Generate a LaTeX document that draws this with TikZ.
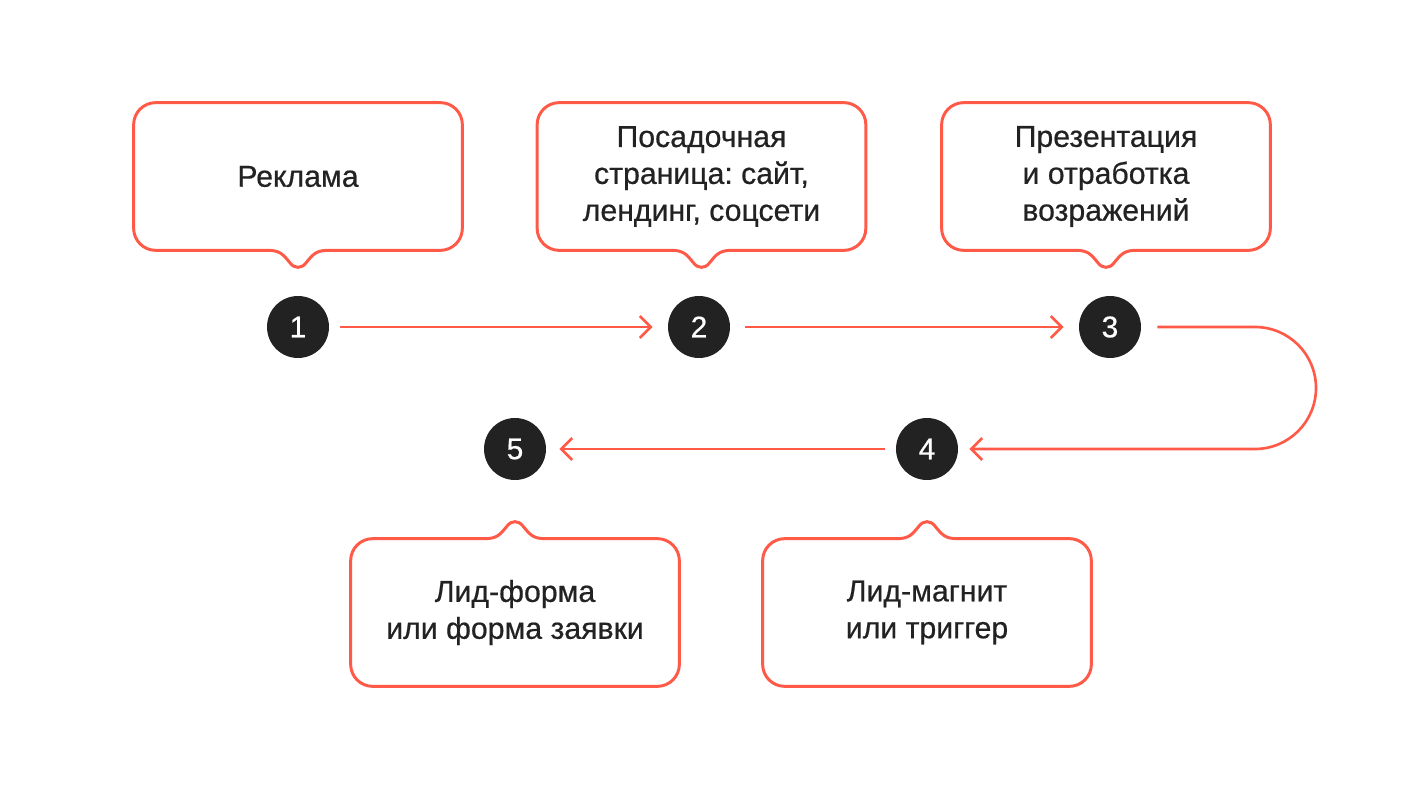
\documentclass[tikz,border=0pt]{standalone}
\usepackage{fontspec}
\setmainfont{Liberation Sans}[FakeBold=0.6]
\usepackage{tikz}
\usetikzlibrary{arrows.meta, calc}
\frenchspacing

\definecolor{accent}{HTML}{FF5A48}
\definecolor{ink}{HTML}{222222}

\tikzset{
    callout/.style={draw=accent, line width=1.7pt, line cap=round},
    boxtext/.style={minimum width=6.56cm, minimum height=2.94cm, align=center,
        text=ink, font=\fontsize{17.2}{21}\selectfont},
    stepdot/.style={circle, fill=ink, minimum size=1.24cm, inner sep=0pt,
        text=white, font=\fontsize{17}{19}\selectfont},
    flow/.style={draw=accent, line width=1.5pt,
        -{Straight Barb[length=2.2mm, width=4.4mm, line width=1.5pt]}}
}

% box outline, open in the middle of the pointer side
\newcommand\bubble[3]{%
    \draw[callout, rounded corners=0.44cm] ([xshift=-0.6cm]#1.#2) -- (#1.#2 west) -- (#1.#3 west)
        -- (#1.#3 east) -- (#1.#2 east) -- ([xshift=0.6cm]#1.#2);
}
\newcommand\pointer[2]{%
    \draw[callout, shift={(#1)}, yscale=#2] (-0.6,0) .. controls (-0.36,0) and (-0.3,-0.08) .. (-0.16,-0.25)
        .. controls (-0.07,-0.37) and (0.07,-0.37) .. (0.16,-0.25)
        .. controls (0.3,-0.08) and (0.36,0) .. (0.6,0);
}

\begin{document}
\begin{tikzpicture}
    \useasboundingbox (0,0) rectangle (28.36,15.72);

    % callouts
    \node[boxtext] (ad) at (5.96,12.19) {Реклама};
    \node[boxtext] (landing) at (14.03,12.19) {Посадочная\\страница: сайт,\\лендинг, соцсети};
    \node[boxtext] (pitch) at (22.12,12.19) {Презентация\\и отработка\\возражений};
    \node[boxtext] (form) at (10.3,3.47) {Лид-форма\\или форма заявки};
    \node[boxtext] (magnet) at (18.54,3.47) {Лид-магнит\\или триггер};

    \bubble{ad}{south}{north}
    \bubble{landing}{south}{north}
    \bubble{pitch}{south}{north}
    \bubble{form}{north}{south}
    \bubble{magnet}{north}{south}
    \pointer{ad.south}{1}
    \pointer{landing.south}{1}
    \pointer{pitch.south}{1}
    \pointer{form.north}{-1}
    \pointer{magnet.north}{-1}

    % steps
    \node[stepdot] (s1) at (5.96,9.18) {1};
    \node[stepdot] (s2) at (13.98,9.18) {2};
    \node[stepdot] (s3) at (22.2,9.18) {3};
    \node[stepdot] (s4) at (18.54,6.74) {4};
    \node[stepdot] (s5) at (10.3,6.74) {5};
    \coordinate (turnA) at (26.32,9.18);
    \coordinate (turnB) at (26.32,6.74);

    \draw[flow, shorten <=0.22cm, shorten >=0.3cm] (s1) -- (s2);
    \draw[flow, shorten <=0.3cm, shorten >=0.3cm] (s2) -- (s3);
    \draw[flow, rounded corners=1.22cm, shorten <=0.32cm, shorten >=0.22cm] (s3) -- (turnA) -- (turnB) -- (s4);
    \draw[flow, shorten <=0.22cm, shorten >=0.26cm] (s4) -- (s5);
\end{tikzpicture}
\end{document}
